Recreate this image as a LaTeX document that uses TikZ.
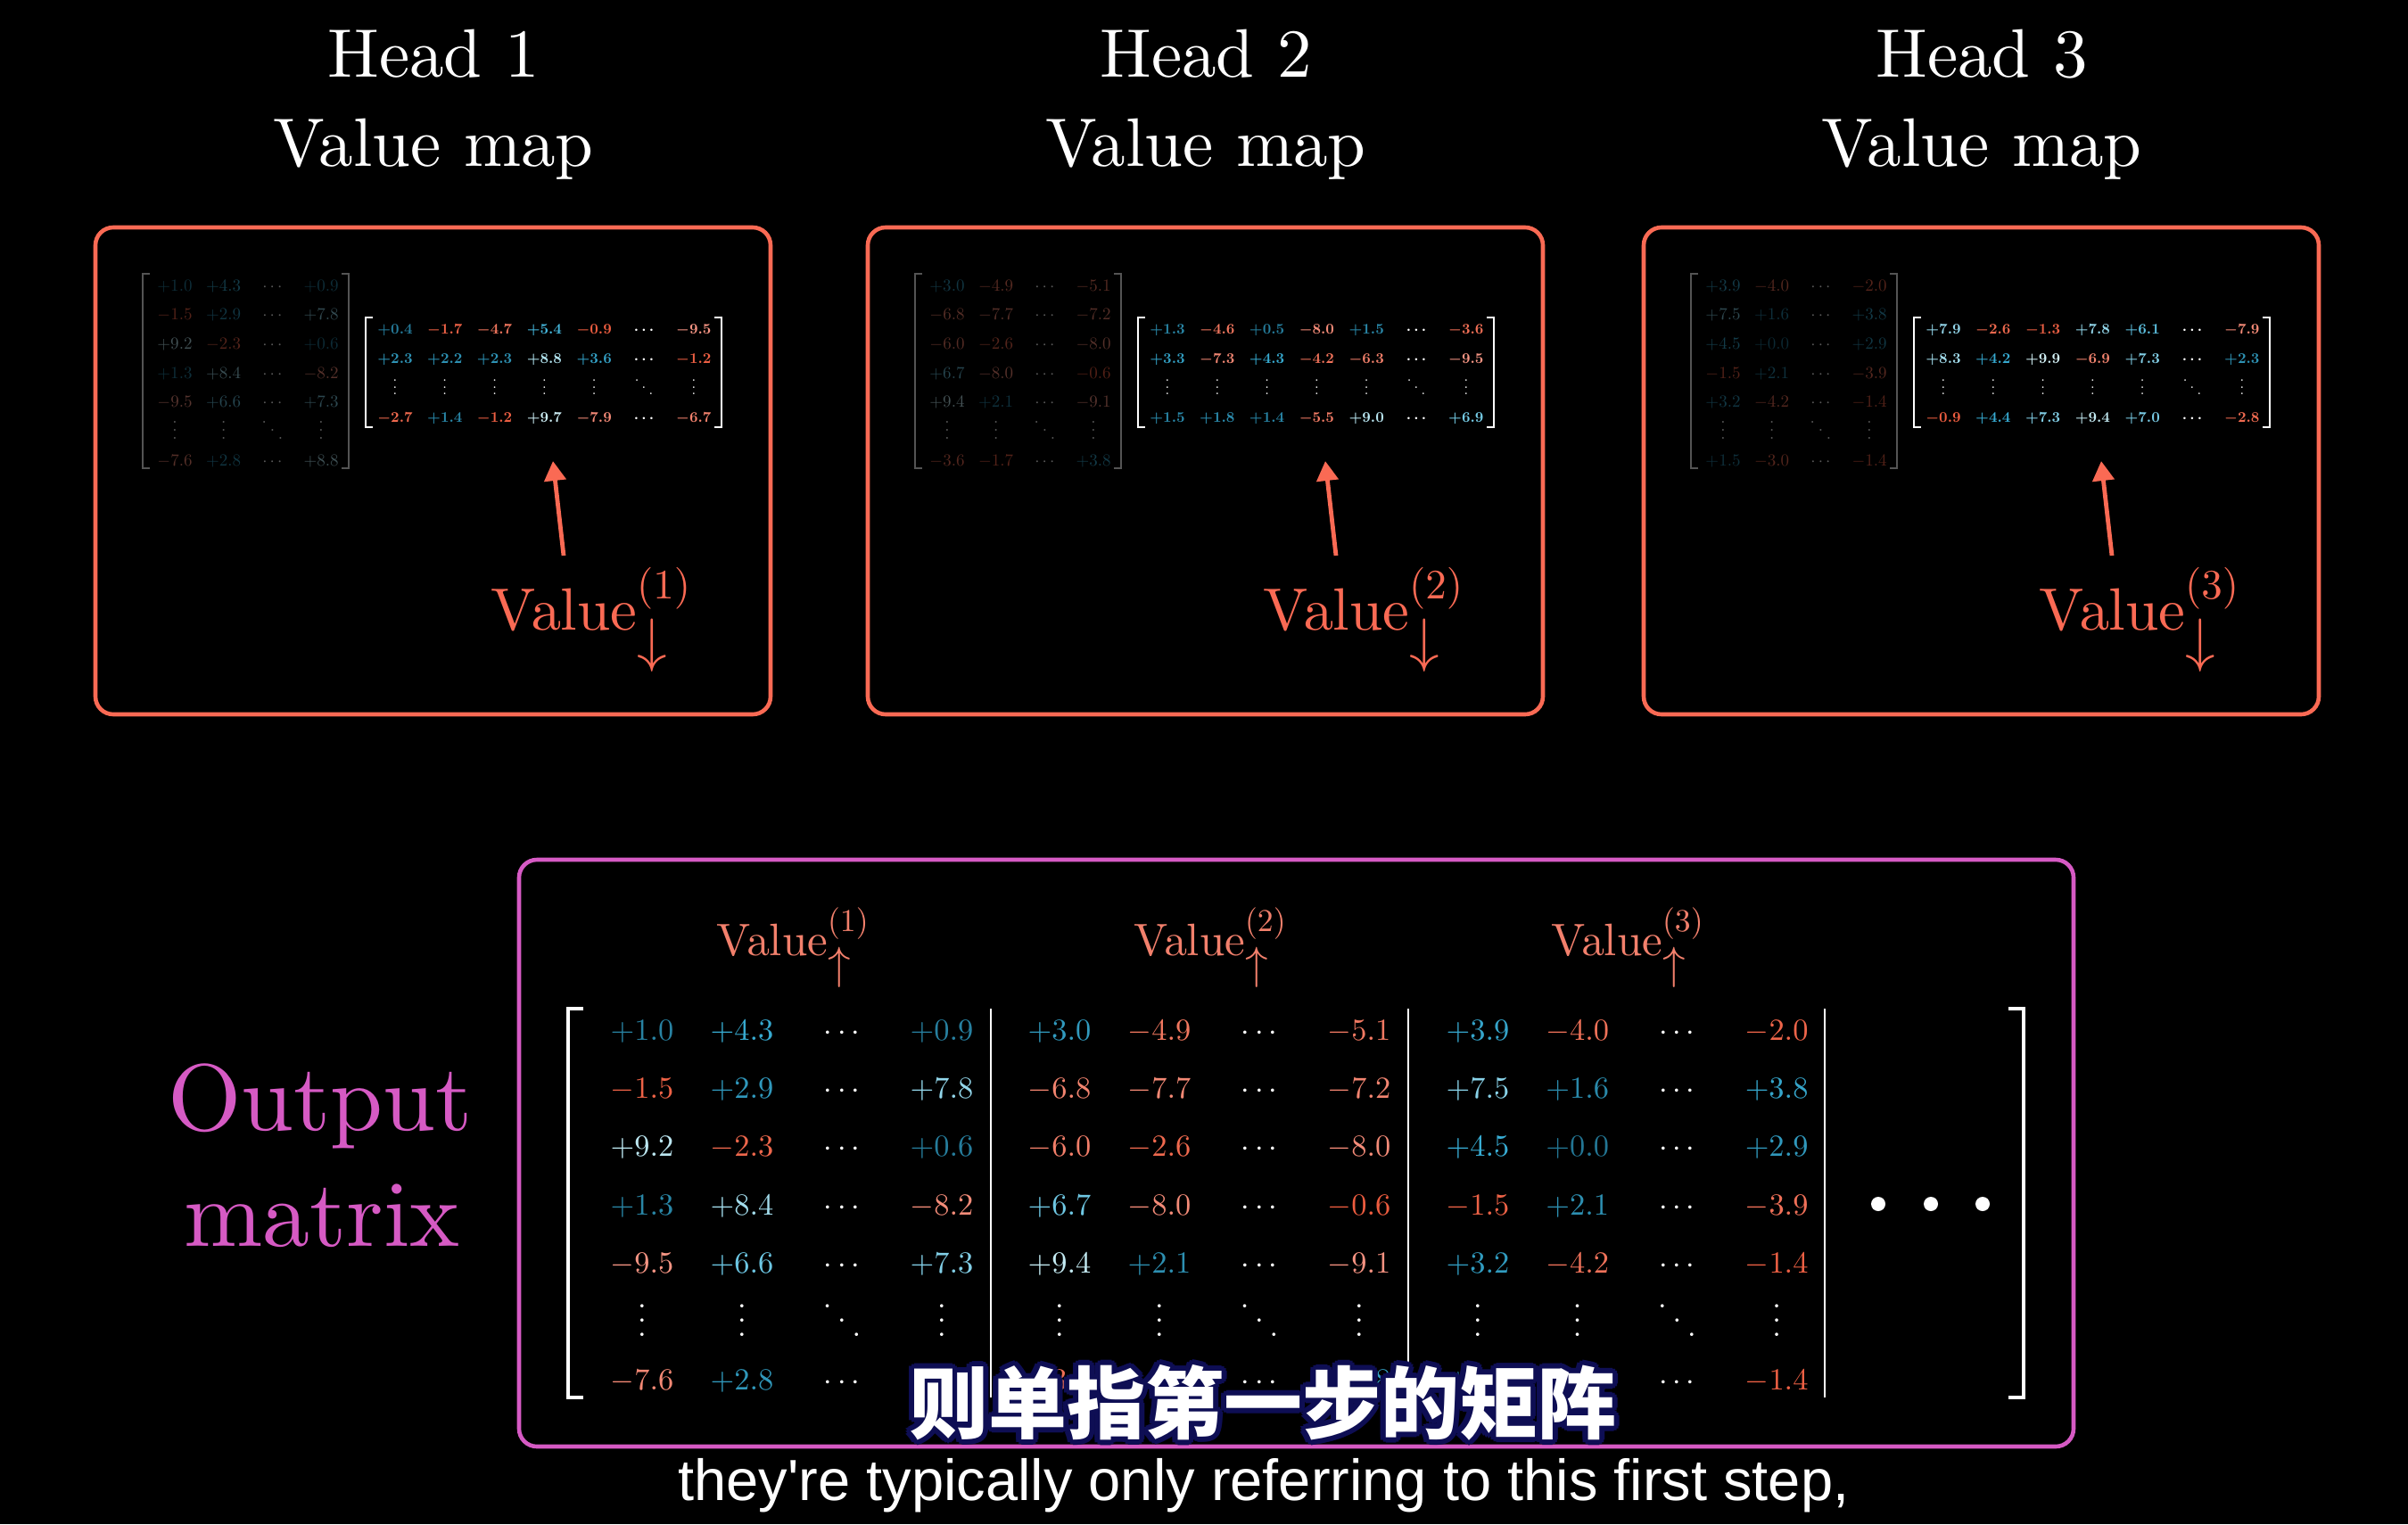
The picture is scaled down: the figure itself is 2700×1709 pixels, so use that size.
\documentclass[tikz,border=0pt]{standalone}
\usepackage[no-math]{fontspec}
\setmainfont{lmroman10-regular.otf}[BoldFont=lmroman10-bold.otf,ItalicFont=lmroman10-italic.otf]
\newfontfamily\cjk{Noto Sans CJK SC}
\newfontfamily\subfont{Liberation Sans}
\DeclareFontShape{OT1}{cmr}{m}{n}{<->cmr10}{}
\DeclareFontShape{OT1}{cmr}{bx}{n}{<->cmbx10}{}
\DeclareFontShape{OML}{cmm}{m}{it}{<->cmmi10}{}
\DeclareFontShape{OML}{cmm}{b}{it}{<->cmmib10}{}
\DeclareFontShape{OMS}{cmsy}{m}{n}{<->cmsy10}{}
\DeclareFontShape{OMS}{cmsy}{b}{n}{<->cmbsy10}{}
\DeclareFontShape{OMX}{cmex}{m}{n}{<->cmex10}{}
\usetikzlibrary{arrows.meta}
\definecolor{poslo}{RGB}{35,118,148}
\definecolor{posmid}{RGB}{58,178,218}
\definecolor{poshi}{RGB}{215,242,246}
\definecolor{neglo}{RGB}{236,88,58}
\definecolor{neghi}{RGB}{246,152,136}
\definecolor{valcol}{RGB}{250,106,84}
\definecolor{vallt}{RGB}{242,128,108}
\definecolor{magcol}{RGB}{214,90,196}
\definecolor{navy}{RGB}{14,14,84}
\definecolor{brkgray}{RGB}{120,120,120}
\def\cC{C}\def\cV{V}\def\cD{D}\def\cplus{+}
\def\cvparse#1#2\relax{%
  \def\cvsign{#1}%
  \ifx\cvsign\cplus
    \ifdim#2pt<5pt
      \pgfmathtruncatemacro\cvp{#2*20}%
      \colorlet{cvc}{posmid!\cvp!poslo}%
    \else
      \pgfmathtruncatemacro\cvp{(#2-5)*20}%
      \colorlet{cvc}{poshi!\cvp!posmid}%
    \fi
  \else
    \pgfmathtruncatemacro\cvp{#2*10}%
    \colorlet{cvc}{neghi!\cvp!neglo}%
  \fi
  \textcolor{cvc}{$#1#2$}}
\newcommand\myvdots{\lower0.17em\vbox{\baselineskip=0.47em\lineskiplimit=-20pt\hbox{.}\hbox{.}\hbox{.}}}
\newcommand\myddots{\lower0.17em\hbox{\raise0.94em\hbox{.}\kern0.2em\raise0.47em\hbox{.}\kern0.2em\hbox{.}}}
\newcommand\ent[1]{\edef\entarg{#1}%
  \ifx\entarg\cC $\cdots$%
  \else\ifx\entarg\cV \myvdots
  \else\ifx\entarg\cD \myddots
  \else \expandafter\cvparse\entarg\relax
  \fi\fi\fi}
\newcommand\placemat[7]{%
  \foreach \rowlist [count=\r] in #1 {%
    \foreach \e [count=\c] in \rowlist {%
      \node[#6] (#7-\r-\c) at ({#2+(\c-1)*(#3)},{#4+(\r-1)*(#5)}) {\ent{\e}};
    }%
  }%
}
\def\hAdata{{+1.0,+4.3,C,+0.9},{-1.5,+2.9,C,+7.8},{+9.2,-2.3,C,+0.6},{+1.3,+8.4,C,-8.2},{-9.5,+6.6,C,+7.3},{V,V,D,V},{-7.6,+2.8,C,+8.8}}
\def\hBdata{{+3.0,-4.9,C,-5.1},{-6.8,-7.7,C,-7.2},{-6.0,-2.6,C,-8.0},{+6.7,-8.0,C,-0.6},{+9.4,+2.1,C,-9.1},{V,V,D,V},{-3.6,-1.7,C,+3.8}}
\def\hCdata{{+3.9,-4.0,C,-2.0},{+7.5,+1.6,C,+3.8},{+4.5,+0.0,C,+2.9},{-1.5,+2.1,C,-3.9},{+3.2,-4.2,C,-1.4},{V,V,D,V},{+1.5,-3.0,C,-1.4}}
\def\vAdata{{+0.4,-1.7,-4.7,+5.4,-0.9,C,-9.5},{+2.3,+2.2,+2.3,+8.8,+3.6,C,-1.2},{V,V,V,V,V,D,V},{-2.7,+1.4,-1.2,+9.7,-7.9,C,-6.7}}
\def\vBdata{{+1.3,-4.6,+0.5,-8.0,+1.5,C,-3.6},{+3.3,-7.3,+4.3,-4.2,-6.3,C,-9.5},{V,V,V,V,V,D,V},{+1.5,+1.8,+1.4,-5.5,+9.0,C,+6.9}}
\def\vCdata{{+7.9,-2.6,-1.3,+7.8,+6.1,C,-7.9},{+8.3,+4.2,+9.9,-6.9,+7.3,C,+2.3},{V,V,V,V,V,D,V},{-0.9,+4.4,+7.3,+9.4,+7.0,C,-2.8}}
\begin{document}
\begin{tikzpicture}[x=0.5pt,y=-0.5pt,
  entry/.style={anchor=base,inner sep=0pt,text=white},
  faded/.style={entry,font=\fontsize{9.5}{12}\selectfont,text opacity=0.35},
  boldm/.style={entry,font=\fontsize{8.3}{10}\selectfont\boldmath},
  bigm/.style={entry,font=\fontsize{17.2}{21}\selectfont},
  title/.style={anchor=base,inner sep=0pt,text=white,font=\fontsize{38.5}{46}\selectfont},
  valbox/.style={draw=valcol,line width=2.3pt,rounded corners=10pt},
  valarrow/.style={draw=valcol,line width=2.4pt,-{Triangle[length=11pt,width=12pt]}},
  vlabel/.style={anchor=base west,inner sep=0pt,text=valcol,font=\fontsize{33.5}{40}\selectfont},
  blabel/.style={anchor=base west,inner sep=0pt,text=vallt,font=\fontsize{25.5}{30}\selectfont},
  outl/.style={anchor=base,inner sep=0pt,text=magcol,font=\fontsize{53}{63}\selectfont},
  fbrk/.style={draw=brkgray,line width=1pt,opacity=0.7},
  wbrk/.style={draw=white,line width=1.3pt},
  bbrk/.style={draw=white,line width=2pt},
  sepl/.style={draw=white,line width=0.9pt},
  cjkst/.style={inner sep=0pt,font=\cjk\bfseries\fontsize{44}{50}\selectfont}
]
\fill[black] (0,0) rectangle (2700,1709);

% ---- three heads ----
\foreach \k/\n in {0/1,866/2,1736/3}{
  \node[title] (hd\n) at (486+\k,86) {Head \n};
  \node[title] (vm\n) at (486+\k,186) {Value map};
  \draw[valbox] (107+\k,255) rectangle (864+\k,801);
  \node[vlabel] (vl\n) at (550+\k,706) {$\mathrm{Value}^{(\n)}_{\textstyle\downarrow}$};
  \coordinate (at\n) at (632+\k,623);
  \coordinate (ah\n) at (620+\k,517);
  \draw[valarrow] (at\n) -- (ah\n);
  \draw[fbrk] (168+\k,307) -- (160+\k,307) -- (160+\k,525) -- (168+\k,525);
  \draw[fbrk] (383+\k,307) -- (391+\k,307) -- (391+\k,525) -- (383+\k,525);
  \draw[wbrk] (418+\k,356) -- (410+\k,356) -- (410+\k,479) -- (418+\k,479);
  \draw[wbrk] (801+\k,356) -- (809+\k,356) -- (809+\k,479) -- (801+\k,479);
}
\placemat{\hAdata}{196}{54.7}{326}{32.7}{faded}{fA}
\placemat{\hBdata}{1062}{54.7}{326}{32.7}{faded}{fB}
\placemat{\hCdata}{1932}{54.7}{326}{32.7}{faded}{fC}
\placemat{\vAdata}{443}{55.8}{374}{33}{boldm}{bA}
\placemat{\vBdata}{1309}{55.8}{374}{33}{boldm}{bB}
\placemat{\vCdata}{2179}{55.8}{374}{33}{boldm}{bC}

% ---- output matrix ----
\node[outl] (out1) at (359,1267) {Output};
\node[outl] (out2) at (361,1397) {matrix};
\draw[draw=magcol,line width=2.3pt,rounded corners=10pt] (582,964) rectangle (2325,1622);
\foreach \x/\n in {803/1,1271/2,1739/3}
  \node[blabel] (bl\n) at (\x,1071) {$\mathrm{Value}^{(\n)}_{\textstyle\uparrow}$};
\draw[bbrk] (654,1131) -- (637,1131) -- (637,1567) -- (654,1567);
\draw[bbrk] (2252,1131) -- (2269,1131) -- (2269,1567) -- (2252,1567);
\foreach \x in {1111,1579,2046} \draw[sepl] (\x,1131) -- (\x,1567);
\placemat{\hAdata}{720}{112}{1166}{65.4}{bigm}{oA}
\placemat{\hBdata}{1188}{112}{1166}{65.4}{bigm}{oB}
\placemat{\hCdata}{1657}{111.7}{1166}{65.4}{bigm}{oC}
\foreach \x in {2106,2165,2223} \fill[white] (\x,1350) circle (4pt);

% ---- subtitles ----
\foreach \a [count=\i] in {0,30,...,330}
  \node[cjkst,text=navy] (cs\i) at ({1416+6*cos(\a)},{1573+6*sin(\a)}) {则单指第一步的矩阵};
\node[cjkst,text=white] (cn) at (1416,1573) {则单指第一步的矩阵};
\node[anchor=base,inner sep=0pt,text=white,font=\subfont\fontsize{32.5}{39}\selectfont] (en) at (1417,1682) {they\textquotesingle re typically only referring to this first step,};
\end{tikzpicture}
\end{document}
